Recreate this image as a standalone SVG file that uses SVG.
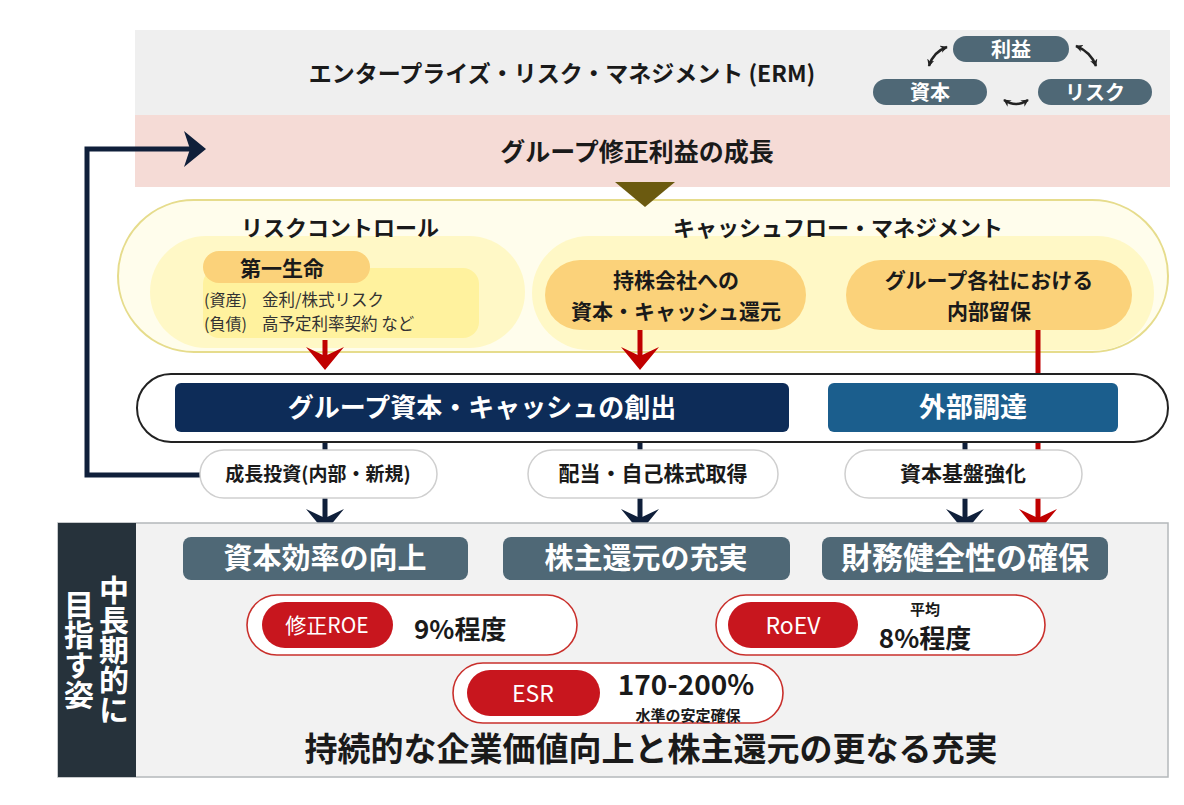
<svg xmlns="http://www.w3.org/2000/svg" width="1184" height="805" viewBox="0 0 1184 805">
<defs>
<style>
text{font-family:"Noto Sans CJK JP","Noto Sans",sans-serif;font-weight:700;}
.c{text-anchor:middle;}
.w{fill:#ffffff;}
.k{fill:#1a1a1a;}
.r{fill:#333333;font-weight:400;}
.slate{fill:#4f6876;}
.ypill{fill:#fbd27a;}
.wpill{fill:#ffffff;stroke:#cfcfcf;stroke-width:1.5;}
.rout{fill:#ffffff;stroke:#c9302c;stroke-width:1.6;}
.rin{fill:#c8161e;}
.navyline{stroke:#0f1f3a;stroke-width:5;fill:none;}
.redline{stroke:#c00000;stroke-width:5;fill:none;}
.thin{stroke:#222;stroke-width:2.5;fill:none;}
</style>
<marker id="ah" viewBox="0 0 10 10" refX="9" refY="5" markerWidth="3" markerHeight="3" orient="auto-start-reverse" markerUnits="strokeWidth">
<path d="M0,0 L10,5 L0,10 L3,5 z" fill="#222"/>
</marker>
</defs>
<rect width="1184" height="805" fill="#ffffff"/>

<!-- ERM band -->
<g id="erm">
<rect x="135" y="30" width="1035" height="85" fill="#efefef"/>
<text x="562" y="82" class="c k" font-size="23">エンタープライズ・リスク・マネジメント (ERM)</text>
</g>
<g id="cycle">
<rect x="953" y="36" width="116" height="26" rx="13" class="slate"/>
<text x="1011" y="57" class="c w" font-size="20">利益</text>
<rect x="873" y="79" width="114" height="26" rx="13" class="slate"/>
<text x="930" y="100" class="c w" font-size="20">資本</text>
<rect x="1038" y="79" width="114" height="26" rx="13" class="slate"/>
<text x="1095" y="100" class="c w" font-size="20">リスク</text>
</g>
<g id="cycle-arrows">
<path d="M947,47 Q933,52 929,66" class="thin" marker-start="url(#ah)" marker-end="url(#ah)"/>
<path d="M1076,46 Q1091,52 1096,66" class="thin" marker-start="url(#ah)" marker-end="url(#ah)"/>
<path d="M1004,100 Q1016,108 1028,100" class="thin" marker-start="url(#ah)" marker-end="url(#ah)"/>
</g>

<!-- growth band -->
<g id="growth">
<rect x="135" y="115" width="1035" height="72" fill="#f5dbd6"/>
<text x="637" y="161" class="c k" font-size="25">グループ修正利益の成長</text>
</g>

<!-- management capsule -->
<g id="management">
<rect x="118" y="200" width="1050" height="152" rx="76" fill="#fffdec" stroke="#e6dc8c" stroke-width="2"/>
<rect x="150" y="236" width="375" height="112" rx="56" fill="#fff8c6"/>
<rect x="532" y="236" width="622" height="114" rx="57" fill="#fff8c6"/>
</g>
<polygon points="615,182 675,182 645,207" fill="#6b5a10"/>

<g id="risk-control">
<text x="340" y="236" class="c k" font-size="22">リスクコントロール</text>
<rect x="203" y="268" width="276" height="70" rx="16" fill="#fff29e"/>
<rect x="203" y="251" width="167" height="32" rx="16" class="ypill"/>
<text x="240" y="276" class="k" font-size="21">第一生命</text>
<text x="204" y="306" class="r" font-size="16">(資産)</text>
<text x="262" y="306" class="r" font-size="16.5">金利/株式リスク</text>
<text x="204" y="330" class="r" font-size="16">(負債)</text>
<text x="262" y="330" class="r" font-size="16.5">高予定利率契約 など</text>
</g>

<g id="cashflow">
<text x="838" y="236" class="c k" font-size="22">キャッシュフロー・マネジメント</text>
</g>
<g id="holding-return">
<rect x="545" y="260" width="261" height="70" rx="35" class="ypill"/>
<text x="676" y="288" class="c k" font-size="21">持株会社への</text>
<text x="676" y="319" class="c k" font-size="21">資本・キャッシュ還元</text>
</g>
<g id="retained">
<rect x="846" y="260" width="286" height="70" rx="35" class="ypill"/>
<text x="989" y="288" class="c k" font-size="21">グループ各社における</text>
<text x="989" y="319" class="c k" font-size="21">内部留保</text>
</g>

<!-- connectors -->
<g id="connectors">
<path d="M200,475 H87 V149 H190" class="navyline"/>
<polygon points="206,149 184,131 190,149 184,167" fill="#0f1f3a"/>
<line x1="325" y1="340" x2="325" y2="360" class="redline"/>
<polygon points="306,347 325,370 344,347 325,356" fill="#c00000"/>
<line x1="640" y1="330" x2="640" y2="360" class="redline"/>
<polygon points="621,347 640,370 659,347 640,356" fill="#c00000"/>
<line x1="1038" y1="330" x2="1038" y2="520" class="redline"/>
<polygon points="1019,509 1038,532 1057,509 1038,518" fill="#c00000"/>
<line x1="325" y1="440" x2="325" y2="520" class="navyline"/>
<polygon points="306,509 325,532 344,509 325,518" fill="#0f1f3a"/>
<line x1="640" y1="440" x2="640" y2="520" class="navyline"/>
<polygon points="621,509 640,532 659,509 640,518" fill="#0f1f3a"/>
<line x1="965" y1="440" x2="965" y2="520" class="navyline"/>
<polygon points="946,509 965,532 984,509 965,518" fill="#0f1f3a"/>
</g>

<!-- creation band -->
<g id="creation">
<rect x="137" y="374" width="1031" height="68" rx="34" fill="#ffffff" stroke="#222" stroke-width="2"/>
<rect x="175" y="383" width="614" height="49" rx="6" fill="#0d2c58"/>
<text x="482" y="417" class="c w" font-size="26">グループ資本・キャッシュの創出</text>
</g>
<g id="external">
<rect x="828" y="383" width="290" height="49" rx="6" fill="#1b5e8d"/>
<text x="973" y="417" class="c w" font-size="27">外部調達</text>
</g>

<g id="growth-invest">
<rect x="200" y="450" width="237" height="48" rx="24" class="wpill"/>
<text x="318" y="481" class="c k" font-size="19">成長投資(内部・新規)</text>
</g>
<g id="dividend">
<rect x="528" y="450" width="250" height="48" rx="24" class="wpill"/>
<text x="653" y="481" class="c k" font-size="21">配当・自己株式取得</text>
</g>
<g id="capital-base">
<rect x="845" y="450" width="237" height="48" rx="24" class="wpill"/>
<text x="963" y="481" class="c k" font-size="21">資本基盤強化</text>
</g>

<!-- goals panel -->
<g id="goals-panel">
<rect x="58" y="523" width="1110" height="254" fill="#f2f2f2" stroke="#b4b8bb" stroke-width="1.5"/>
<rect x="58" y="523" width="78" height="254" fill="#26323b"/>
<text x="114" y="575" class="w" font-size="30" writing-mode="vertical-rl">中長期的に</text>
<text x="79" y="590" class="w" font-size="30" writing-mode="vertical-rl">目指す姿</text>
</g>

<g id="capital-efficiency">
<rect x="183" y="537" width="285" height="43" rx="8" class="slate"/>
<text x="325" y="569" class="c w" font-size="29">資本効率の向上</text>
</g>
<g id="shareholder-return">
<rect x="503" y="537" width="287" height="43" rx="8" class="slate"/>
<text x="646" y="569" class="c w" font-size="29">株主還元の充実</text>
</g>
<g id="financial-soundness">
<rect x="822" y="537" width="286" height="43" rx="8" class="slate"/>
<text x="965" y="569" class="c w" font-size="31">財務健全性の確保</text>
</g>

<g id="roe">
<rect x="247" y="595" width="330" height="60" rx="30" class="rout"/>
<rect x="262" y="602" width="131" height="46" rx="23" class="rin"/>
<text x="327" y="633" class="c w" font-size="21" style="font-weight:400">修正ROE</text>
<text x="414" y="639" class="k" font-size="26">9%程度</text>
</g>
<g id="roev">
<rect x="716" y="595" width="329" height="60" rx="30" class="rout"/>
<rect x="728" y="602" width="130" height="46" rx="23" class="rin"/>
<text x="793" y="634" class="c w" font-size="23" style="font-weight:400">RoEV</text>
<text x="925" y="615" class="c k" font-size="15">平均</text>
<text x="925" y="648" class="c k" font-size="26">8%程度</text>
</g>
<g id="esr">
<rect x="453" y="663" width="330" height="60" rx="30" class="rout"/>
<rect x="467" y="670" width="133" height="46" rx="23" class="rin"/>
<text x="533" y="702" class="c w" font-size="23" style="font-weight:400">ESR</text>
<text x="686" y="695" class="c k" font-size="28">170-200%</text>
<text x="688" y="721" class="c k" font-size="15">水準の安定確保</text>
</g>

<g id="conclusion">
<text x="651" y="761" class="c k" font-size="33">持続的な企業価値向上と株主還元の更なる充実</text>
</g>
</svg>
